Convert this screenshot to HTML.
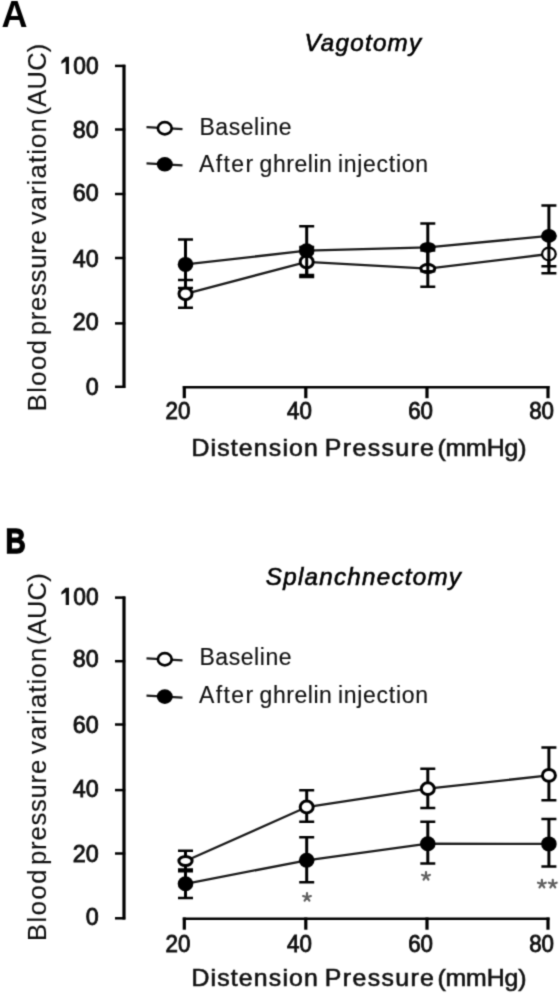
<!DOCTYPE html>
<html><head><meta charset="utf-8"><style>
html,body{margin:0;padding:0;background:#fff;}
svg{display:block;}
text{font-family:"Liberation Sans",sans-serif;fill:#000;}
.pl{font-weight:bold;}
.tk{font-size:24px;font-weight:normal;fill:#111;stroke:#111;stroke-width:0.9px;}
.xl{fill:#111;stroke:#111;}
.yl{fill:#111;stroke:#111;}
.lg{fill:#111;stroke:#111;}
.ti{fill:#000;stroke:#000;}
.st{stroke:#606060;stroke-width:2.2;fill:none;stroke-linecap:round;}
.axv{stroke:#000;stroke-width:3.2;fill:none;}
.axh{stroke:#000;stroke-width:2.5;fill:none;}
.ln{stroke:#1a1a1a;stroke-width:2.3;fill:none;}
.ebv{stroke:#000;stroke-width:3.0;fill:none;}
.ebh{stroke:#000;stroke-width:2.5;fill:none;}
.mo{fill:#fff;stroke:#000;stroke-width:3.0;}
.mf{fill:#000;stroke:none;}
</style></head><body>
<svg width="559" height="993" viewBox="0 0 559 993">
<defs><filter id="bl" x="0" y="0" width="559" height="993" filterUnits="userSpaceOnUse" color-interpolation-filters="sRGB"><feConvolveMatrix order="3" kernelMatrix="0.02768 0.11101 0.02768 0.11101 0.44521 0.11101 0.02768 0.11101 0.02768" edgeMode="duplicate" preserveAlpha="true"/></filter></defs>
<g filter="url(#bl)">
<rect width="559" height="993" fill="#fff"/>
<text transform="translate(1.4 26.8) scale(1.0 1)" class="pl" style="font-size:36px;stroke:#000;stroke-width:0px">A</text>
<text transform="translate(304.4 50.8) scale(1.05 1)" class="ti" style="font-size:23px;font-weight:normal;font-style:italic;letter-spacing:1.197px;stroke-width:0.6px">Vagotomy</text>
<path d="M124 64.7 V388.0" class="axv"/>
<path d="M115 65.9 H125.2" class="axh"/>
<text transform="translate(98.7 74.0) scale(0.95 1)" class="tk" text-anchor="end">00</text>
<path d="M65.7 56.8 H69.0 V74.0 H65.7 V61.4 L61.4 63.9 V61.0 Z" fill="#111"/>
<path d="M115 129.5 H125.2" class="axh"/>
<text transform="translate(98.7 138.2) scale(0.97 1)" class="tk" text-anchor="end">80</text>
<path d="M115 194.0 H125.2" class="axh"/>
<text transform="translate(98.7 201.2) scale(0.97 1)" class="tk" text-anchor="end">60</text>
<path d="M115 258.0 H125.2" class="axh"/>
<text transform="translate(98.7 267.1) scale(0.97 1)" class="tk" text-anchor="end">40</text>
<path d="M115 323.4 H125.2" class="axh"/>
<text transform="translate(98.7 330.4) scale(0.97 1)" class="tk" text-anchor="end">20</text>
<path d="M115 386.8 H125.2" class="axh"/>
<text transform="translate(98.7 395.2) scale(0.97 1)" class="tk" text-anchor="end">0</text>
<path d="M182.8 387.2 H549.5" class="axh"/>
<path d="M184.3 386.0 V398.2" class="axv"/>
<text transform="translate(177.9 419.3) scale(0.93 1)" class="tk" text-anchor="middle">20</text>
<path d="M305.8 386.0 V398.2" class="axv"/>
<text transform="translate(299.4 419.3) scale(0.93 1)" class="tk" text-anchor="middle">40</text>
<path d="M427.0 386.0 V398.2" class="axv"/>
<text transform="translate(420.6 419.3) scale(0.93 1)" class="tk" text-anchor="middle">60</text>
<path d="M548.0 386.0 V398.2" class="axv"/>
<text transform="translate(541.6 419.3) scale(0.93 1)" class="tk" text-anchor="middle">80</text>
<text transform="translate(191.4 455.8) scale(1.08 1)" class="xl" style="font-size:23px;font-weight:normal;font-style:normal;letter-spacing:1.091px;stroke-width:0.6px">Distension</text>
<text transform="translate(324.8 455.8) scale(1.08 1)" class="xl" style="font-size:23px;font-weight:normal;font-style:normal;letter-spacing:1.296px;stroke-width:0.6px">Pressure</text>
<text transform="translate(437.4 455.8) scale(1.08 1)" class="xl" style="font-size:23px;font-weight:normal;font-style:normal;letter-spacing:-0.111px;stroke-width:0.6px">(mmHg)</text>
<text transform="translate(46.4 411.3) rotate(-90)" class="yl" style="font-size:25.5px;font-weight:normal;font-style:normal;letter-spacing:1.5px;stroke-width:0.15px">Blood</text>
<text transform="translate(46.4 335.3) rotate(-90)" class="yl" style="font-size:25.5px;font-weight:normal;font-style:normal;letter-spacing:0.829px;stroke-width:0.15px">pressure</text>
<text transform="translate(46.4 224.5) rotate(-90)" class="yl" style="font-size:25.5px;font-weight:normal;font-style:normal;letter-spacing:1.225px;stroke-width:0.15px">variation</text>
<text transform="translate(46.4 115.5) rotate(-90)" class="yl" style="font-size:25.5px;font-weight:normal;font-style:normal;letter-spacing:0.25px;stroke-width:0.15px">(AUC)</text>
<path d="M146.5 127.19999999999999 L165 128.2 L182.5 129.2" class="ln"/>
<ellipse cx="164.8" cy="128.2" rx="6.9" ry="6.1" class="mo" style="stroke-width:2.7"/>
<text x="199.4" y="134.8" class="lg" style="font-size:23px;font-weight:normal;font-style:normal;letter-spacing:0.571px;stroke-width:0.15px">Baseline</text>
<path d="M146.5 163.3 L165 164.3 L182.5 165.3" class="ln"/>
<ellipse cx="164.8" cy="164.3" rx="8" ry="7.3" class="mf"/>
<text x="198.9" y="172.2" class="lg" style="font-size:23px;font-weight:normal;font-style:normal;letter-spacing:1.45px;stroke-width:0.15px">After</text>
<text x="259.6" y="172.2" class="lg" style="font-size:23px;font-weight:normal;font-style:normal;letter-spacing:0.533px;stroke-width:0.15px">ghrelin</text>
<text x="337.9" y="172.2" class="lg" style="font-size:23px;font-weight:normal;font-style:normal;letter-spacing:0.725px;stroke-width:0.15px">injection</text>
<path d="M185.5 293.8 L306.7 261.9 L427.8 268.6 L548.9 254.0" class="ln"/>
<path d="M185.5 279.9 V307.7" class="ebv"/><path d="M178.0 279.9 H193.0 M178.0 307.7 H193.0" class="ebh"/>
<path d="M306.7 247.0 V277.0" class="ebv"/><path d="M299.2 247.0 H314.2 M299.2 277.0 H314.2" class="ebh"/>
<path d="M427.8 250.5 V286.7" class="ebv"/><path d="M420.3 250.5 H435.3 M420.3 286.7 H435.3" class="ebh"/>
<path d="M548.9 235.9 V273.3" class="ebv"/><path d="M541.4 235.9 H556.4 M541.4 273.3 H556.4" class="ebh"/>
<ellipse cx="185.5" cy="293.8" rx="6.5" ry="5.9" class="mo" style="stroke-width:3.0"/>
<ellipse cx="306.7" cy="261.9" rx="6.5" ry="5.9" class="mo" style="stroke-width:3.0"/>
<ellipse cx="427.8" cy="268.6" rx="7.0" ry="4.0" class="mo" style="stroke-width:3.0"/>
<ellipse cx="548.9" cy="254.0" rx="6.8" ry="6.3" class="mo" style="stroke-width:2.2"/>
<path d="M185.5 264.4 L306.7 250.7 L427.8 247.4 L548.9 235.9" class="ln"/>
<path d="M185.5 239.5 V288.0" class="ebv"/><path d="M178.0 239.5 H193.0 M178.0 288.0 H193.0" class="ebh"/>
<path d="M306.7 226.3 V275.1" class="ebv"/><path d="M299.2 226.3 H314.2 M299.2 275.1 H314.2" class="ebh"/>
<path d="M427.8 223.6 V271.2" class="ebv"/><path d="M420.3 223.6 H435.3 M420.3 271.2 H435.3" class="ebh"/>
<path d="M548.9 205.5 V266.3" class="ebv"/><path d="M541.4 205.5 H556.4 M541.4 266.3 H556.4" class="ebh"/>
<ellipse cx="185.5" cy="264.4" rx="7.8" ry="7.5" class="mf"/>
<ellipse cx="306.7" cy="250.7" rx="7.8" ry="7.5" class="mf"/>
<ellipse cx="427.8" cy="247.4" rx="8.0" ry="5.4" class="mf"/>
<ellipse cx="548.9" cy="235.9" rx="7.8" ry="7.0" class="mf"/>
<text transform="translate(5.6 553.0) scale(0.8 1)" class="pl" style="font-size:35px;stroke:#000;stroke-width:1.3px">B</text>
<text transform="translate(265.8 585.2) scale(1.05 1)" class="ti" style="font-size:23px;font-weight:normal;font-style:italic;letter-spacing:1.216px;stroke-width:0.6px">Splanchnectomy</text>
<path d="M124 596.4 V919.5" class="axv"/>
<path d="M115 597.6 H125.2" class="axh"/>
<text transform="translate(98.7 605.0) scale(0.95 1)" class="tk" text-anchor="end">00</text>
<path d="M65.7 587.7 H69.0 V605.0 H65.7 V592.3 L61.4 594.8 V592.0 Z" fill="#111"/>
<path d="M115 661.2 H125.2" class="axh"/>
<text transform="translate(98.7 667.4) scale(0.97 1)" class="tk" text-anchor="end">80</text>
<path d="M115 724.5 H125.2" class="axh"/>
<text transform="translate(98.7 732.6) scale(0.97 1)" class="tk" text-anchor="end">60</text>
<path d="M115 790.1 H125.2" class="axh"/>
<text transform="translate(98.7 796.7) scale(0.97 1)" class="tk" text-anchor="end">40</text>
<path d="M115 853.5 H125.2" class="axh"/>
<text transform="translate(98.7 861.8) scale(0.97 1)" class="tk" text-anchor="end">20</text>
<path d="M115 918.3 H125.2" class="axh"/>
<text transform="translate(98.7 924.9) scale(0.97 1)" class="tk" text-anchor="end">0</text>
<path d="M182.8 918.6999999999999 H549.5" class="axh"/>
<path d="M184.3 917.5 V929.6999999999999" class="axv"/>
<text transform="translate(177.9 951.6) scale(0.93 1)" class="tk" text-anchor="middle">20</text>
<path d="M305.8 917.5 V929.6999999999999" class="axv"/>
<text transform="translate(299.4 951.6) scale(0.93 1)" class="tk" text-anchor="middle">40</text>
<path d="M427.0 917.5 V929.6999999999999" class="axv"/>
<text transform="translate(420.6 951.6) scale(0.93 1)" class="tk" text-anchor="middle">60</text>
<path d="M548.0 917.5 V929.6999999999999" class="axv"/>
<text transform="translate(541.6 951.6) scale(0.93 1)" class="tk" text-anchor="middle">80</text>
<text transform="translate(191.4 985.5) scale(1.08 1)" class="xl" style="font-size:23px;font-weight:normal;font-style:normal;letter-spacing:1.091px;stroke-width:0.6px">Distension</text>
<text transform="translate(324.8 985.5) scale(1.08 1)" class="xl" style="font-size:23px;font-weight:normal;font-style:normal;letter-spacing:1.296px;stroke-width:0.6px">Pressure</text>
<text transform="translate(437.4 985.5) scale(1.08 1)" class="xl" style="font-size:23px;font-weight:normal;font-style:normal;letter-spacing:-0.111px;stroke-width:0.6px">(mmHg)</text>
<text transform="translate(46.4 940.9) rotate(-90)" class="yl" style="font-size:25.5px;font-weight:normal;font-style:normal;letter-spacing:1.5px;stroke-width:0.15px">Blood</text>
<text transform="translate(46.4 864.9) rotate(-90)" class="yl" style="font-size:25.5px;font-weight:normal;font-style:normal;letter-spacing:0.829px;stroke-width:0.15px">pressure</text>
<text transform="translate(46.4 754.1) rotate(-90)" class="yl" style="font-size:25.5px;font-weight:normal;font-style:normal;letter-spacing:1.225px;stroke-width:0.15px">variation</text>
<text transform="translate(46.4 645.1) rotate(-90)" class="yl" style="font-size:25.5px;font-weight:normal;font-style:normal;letter-spacing:0.25px;stroke-width:0.15px">(AUC)</text>
<path d="M146.5 658.3 L165 659.3 L182.5 660.3" class="ln"/>
<ellipse cx="164.8" cy="659.3" rx="6.9" ry="6.1" class="mo" style="stroke-width:2.7"/>
<text x="199.4" y="665.1" class="lg" style="font-size:23px;font-weight:normal;font-style:normal;letter-spacing:0.571px;stroke-width:0.15px">Baseline</text>
<path d="M146.5 695.6 L165 696.6 L182.5 697.6" class="ln"/>
<ellipse cx="164.8" cy="696.6" rx="8" ry="7.3" class="mf"/>
<text x="198.9" y="702.5" class="lg" style="font-size:23px;font-weight:normal;font-style:normal;letter-spacing:1.45px;stroke-width:0.15px">After</text>
<text x="259.6" y="702.5" class="lg" style="font-size:23px;font-weight:normal;font-style:normal;letter-spacing:0.533px;stroke-width:0.15px">ghrelin</text>
<text x="337.9" y="702.5" class="lg" style="font-size:23px;font-weight:normal;font-style:normal;letter-spacing:0.725px;stroke-width:0.15px">injection</text>
<path d="M185.5 861.0 L306.7 807.0 L427.8 788.7 L548.9 775.4" class="ln"/>
<path d="M185.5 850.7 V871.3" class="ebv"/><path d="M178.0 850.7 H193.0 M178.0 871.3 H193.0" class="ebh"/>
<path d="M306.7 790.2 V821.8" class="ebv"/><path d="M299.2 790.2 H314.2 M299.2 821.8 H314.2" class="ebh"/>
<path d="M427.8 768.7 V808.0" class="ebv"/><path d="M420.3 768.7 H435.3 M420.3 808.0 H435.3" class="ebh"/>
<path d="M548.9 747.6 V800.2" class="ebv"/><path d="M541.4 747.6 H556.4 M541.4 800.2 H556.4" class="ebh"/>
<ellipse cx="185.5" cy="861.0" rx="6.6" ry="4.6" class="mo" style="stroke-width:3.0"/>
<ellipse cx="306.7" cy="807.0" rx="6.5" ry="5.9" class="mo" style="stroke-width:3.0"/>
<ellipse cx="427.8" cy="788.7" rx="6.5" ry="5.9" class="mo" style="stroke-width:3.0"/>
<ellipse cx="548.9" cy="775.4" rx="6.5" ry="5.9" class="mo" style="stroke-width:3.0"/>
<path d="M185.5 883.8 L306.7 860.3 L427.8 843.7 L548.9 843.9" class="ln"/>
<path d="M185.5 869.5 V898.1" class="ebv"/><path d="M178.0 869.5 H193.0 M178.0 898.1 H193.0" class="ebh"/>
<path d="M306.7 837.2 V882.3" class="ebv"/><path d="M299.2 837.2 H314.2 M299.2 882.3 H314.2" class="ebh"/>
<path d="M427.8 821.8 V863.4" class="ebv"/><path d="M420.3 821.8 H435.3 M420.3 863.4 H435.3" class="ebh"/>
<path d="M548.9 819.0 V866.5" class="ebv"/><path d="M541.4 819.0 H556.4 M541.4 866.5 H556.4" class="ebh"/>
<ellipse cx="185.5" cy="883.8" rx="7.8" ry="7.5" class="mf"/>
<ellipse cx="306.7" cy="860.3" rx="7.8" ry="7.5" class="mf"/>
<ellipse cx="427.8" cy="843.7" rx="7.8" ry="7.5" class="mf"/>
<ellipse cx="548.9" cy="843.9" rx="7.8" ry="7.5" class="mf"/>
<path d="M307 897.3 L307.00 893.20 M307 897.3 L310.90 896.03 M307 897.3 L309.41 900.62 M307 897.3 L304.59 900.62 M307 897.3 L303.10 896.03 " class="st"/>
<path d="M426 876.2 L426.00 872.10 M426 876.2 L429.90 874.93 M426 876.2 L428.41 879.52 M426 876.2 L423.59 879.52 M426 876.2 L422.10 874.93 " class="st"/>
<path d="M541.9 884 L541.90 879.90 M541.9 884 L545.80 882.73 M541.9 884 L544.31 887.32 M541.9 884 L539.49 887.32 M541.9 884 L538.00 882.73 " class="st"/>
<path d="M552.8 884 L552.80 879.90 M552.8 884 L556.70 882.73 M552.8 884 L555.21 887.32 M552.8 884 L550.39 887.32 M552.8 884 L548.90 882.73 " class="st"/>
</g>
</svg>
</body></html>
